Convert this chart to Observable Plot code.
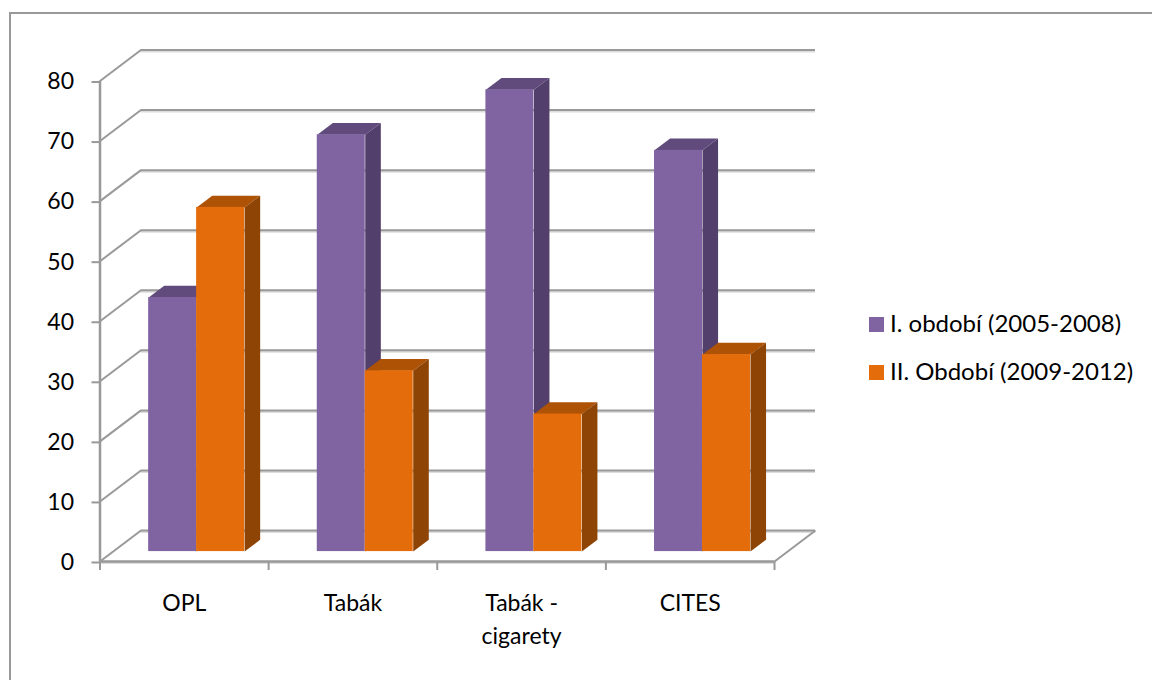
<!DOCTYPE html>
<html>
<head>
<meta charset="utf-8">
<script src="https://cdn.jsdelivr.net/npm/d3@7"></script>
<script src="https://cdn.jsdelivr.net/npm/@observablehq/plot@0.6"></script>
<style>
  html, body { margin: 0; padding: 0; background: #fff; width: 100%; height: 100%; overflow: hidden; }
  #frame { position: absolute; left: 9px; top: 12px; right: 0; bottom: 0; border-left: 2px solid #999; border-top: 2px solid #999; }
  #chart { position: absolute; left: 0; top: 0; }
  #chart svg { display: block; }
  #legend { position: absolute; left: 869px; top: 304px; font: 24px Lato, sans-serif; color: #000; }
  .row { display: flex; align-items: center; height: 40px; margin-bottom: 8px; white-space: nowrap; }
  .row span:last-child { position: relative; top: -2px; }
  .sw { width: 15px; height: 15px; margin-right: 6px; flex: none; }
</style>
</head>
<body>
<div id="frame"></div>
<div id="chart"></div>
<div id="legend"></div>
<script>
const categories = ["OPL", "Tabák", "Tabák -\ncigarety", "CITES"];
const seriesNames = ["I. období (2005-2008)", "II. Období (2009-2012)"];
const period1 = [42.3, 69.4, 76.9, 66.8];
const period2 = [57.3, 30.1, 22.9, 32.8];
const yTicks = [0, 10, 20, 30, 40, 50, 60, 70, 80];
const frontColors = ["#8064A2", "#E46C0A"];
const topColors = ["#604B7C", "#AE5206"];
const sideColors = ["#533F6B", "#8E4405"];

// Oblique projection, expressed in scale units (category widths, value units)
const wallDX = 0.243, wallDY = 5.16;
const barNear = 0.32, barFar = 0.70;
const barStart = 0.2107, barWidth = 0.2845;

const gridColor = "#999";
const shadowColor = "#dcdcdc";
const bars = [period1, period2].map((vals, s) => vals.map((v, c) => {
  const x1 = c + barStart + s * barWidth + barNear * wallDX;
  const x2 = x1 + barWidth;
  const y1 = barNear * wallDY;
  return {s, c, v, x1, x2, y1, y2: y1 + v};
}));

const depth = (barFar - barNear);
function faces(list) {
  const out = [];
  for (const b of list) {
    const dx = depth * wallDX, dy = depth * wallDY;
    const top = [[b.x1, b.y2], [b.x2, b.y2], [b.x2 + dx, b.y2 + dy], [b.x1 + dx, b.y2 + dy]];
    const side = [[b.x2, b.y1], [b.x2 + dx, b.y1 + dy], [b.x2 + dx, b.y2 + dy], [b.x2, b.y2]];
    top.forEach(p => out.push({id: `t${b.s}${b.c}`, x: p[0], y: p[1], fill: topColors[b.s]}));
    side.forEach(p => out.push({id: `s${b.s}${b.c}`, x: p[0], y: p[1], fill: sideColors[b.s]}));
  }
  return out;
}
const barMarks = [0, 1].flatMap(s => [
  Plot.line(faces(bars[s]), {x: "x", y: "y", z: "id", fill: "fill", stroke: "none"}),
  Plot.rect(bars[s], {x1: "x1", x2: "x2", y1: "y1", y2: "y2", fill: frontColors[s]})
]);

const plot = Plot.plot({
  width: 1152,
  height: 680,
  marginLeft: 99.5,
  marginRight: 337,
  marginTop: 49.5,
  marginBottom: 119,
  style: {fontFamily: "Lato, sans-serif", fontSize: "23px", background: "transparent", color: "#000"},
  x: {domain: [0, 4 + wallDX], axis: null},
  y: {domain: [0, 80 + wallDY], axis: null},
  marks: [
    // soft shadow under the back wall lines
    Plot.ruleY(yTicks, {y: d => d + wallDY, x1: wallDX, x2: 4 + wallDX, stroke: shadowColor, strokeWidth: 2, dy: 1.5}),
    Plot.ruleY([0], {x1: 0, x2: 4, stroke: shadowColor, strokeWidth: 2, dy: 1.5}),
    // back wall and side wall gridlines
    Plot.ruleY(yTicks, {y: d => d + wallDY, x1: wallDX, x2: 4 + wallDX, stroke: gridColor, strokeWidth: 2}),
    Plot.link(yTicks, {x1: 0, y1: d => d, x2: wallDX, y2: d => d + wallDY, stroke: gridColor, strokeWidth: 2}),
    // floor
    Plot.link([4], {x1: d => d, y1: 0, x2: d => d + wallDX, y2: wallDY, stroke: gridColor, strokeWidth: 2}),
    Plot.ruleY([0], {x1: 0, x2: 4, stroke: gridColor, strokeWidth: 2.5}),
    Plot.ruleX([0], {y1: 0, y2: 80, stroke: gridColor, strokeWidth: 2.5}),
    ...barMarks,
    Plot.axisY({ticks: yTicks, tickSize: 8, tickPadding: 18, stroke: gridColor, strokeWidth: 2, fill: "#000", fontSize: 23, label: null, textStroke: "none", dy: 1, tickFormat: d => String(d)}),
    Plot.axisX({ticks: d3.range(0, 5), tickSize: 9, stroke: gridColor, strokeWidth: 2, tickFormat: () => "", label: null}),
    Plot.axisX({ticks: categories.map((_, i) => i + 0.5), tickSize: 0, tickPadding: 27, fill: "#000", fontSize: 23, lineHeight: 1.4, label: null,
      tickFormat: d => categories[Math.floor(d)]})
  ]
});
document.getElementById("chart").append(plot);

const legend = document.getElementById("legend");
seriesNames.forEach((name, i) => {
  const row = document.createElement("div");
  row.className = "row";
  const sw = document.createElement("span");
  sw.className = "sw";
  sw.style.background = frontColors[i];
  const label = document.createElement("span");
  label.textContent = name;
  row.append(sw, label);
  legend.append(row);
});
</script>
</body>
</html>
